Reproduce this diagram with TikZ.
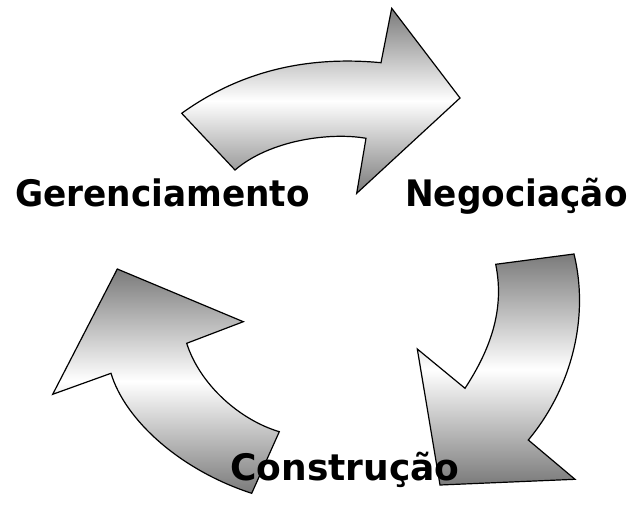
\documentclass[tikz,border=0pt]{standalone}
\usepackage{fontspec}
\newfontfamily\labelfont[FakeStretch=0.94]{DejaVu Sans Bold}
\begin{document}
\begin{tikzpicture}[x=1pt,y=-1pt,
  arrowshape/.style={draw=black,line width=1.2pt,line join=miter,
    top color=black!52,bottom color=black!52,middle color=white},
  lbl/.style={font=\labelfont\fontsize{36.5}{40}\selectfont,inner sep=0pt,anchor=base west}]
\useasboundingbox (0,0) rectangle (631,505);
% top arrow
\path[arrowshape] (181.7,113.3) .. controls (235,75) and (300,55) .. (381,62.7)
  -- (391.7,8.3) -- (460,98) -- (356.7,193.3) -- (366,138.3)
  .. controls (330,132) and (270,140) .. (235,170) -- cycle;
% right arrow
\path[arrowshape] (574,254) -- (495.7,264.3)
  .. controls (505,310) and (490,350) .. (465,388.3)
  -- (417.3,349) -- (440,485) -- (575,479.3) -- (528.3,440)
  .. controls (570,390) and (590,320) .. (574,254) -- cycle;
% left arrow
\path[arrowshape] (117.3,269) -- (243.3,321.7) -- (186.7,343.3)
  .. controls (200,385) and (240,420) .. (279.3,431.7)
  -- (251.7,493.3) .. controls (180,470) and (125,420) .. (111,373.3)
  -- (52.7,394.3) -- cycle;
\node[lbl] (ger) at (15,206.7) {Gerenciamento};
\node[lbl] (neg) at (405,206.7) {Negociação};
\node[lbl] (con) at (230,480) {\scalebox{1.05}[1]{Construção}};
\end{tikzpicture}
\end{document}
